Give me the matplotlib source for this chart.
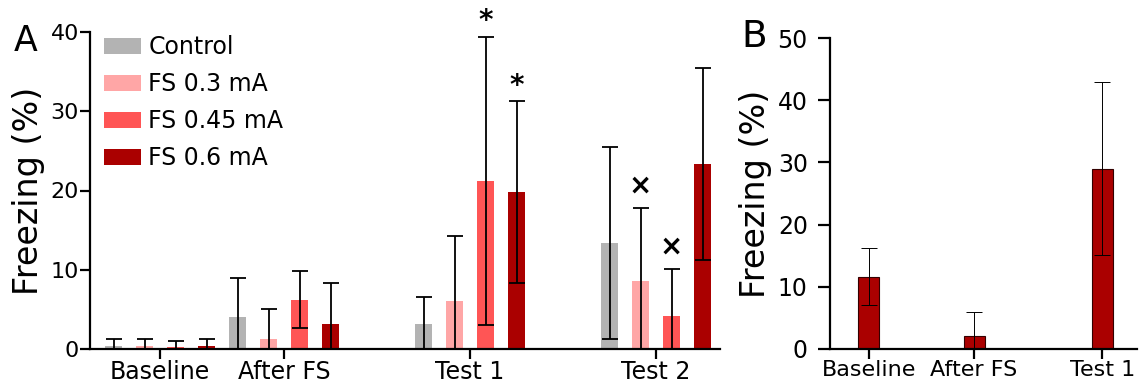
import numpy as np
import matplotlib.pyplot as plt

# ---- data ----
groups_a = ["Baseline", "After FS", "Test 1", "Test 2"]
series_a = ["Control", "FS 0.3 mA", "FS 0.45 mA", "FS 0.6 mA"]
colors_a = ["#b3b3b3", "#ffa6a6", "#ff5555", "#aa0000"]
control = [0.4, 4.1, 3.1, 13.4]
fs03 = [0.4, 1.3, 6.0, 8.6]
fs045 = [0.3, 6.2, 21.2, 4.2]
fs06 = [0.4, 3.2, 19.8, 23.3]
control_err = [0.8, 4.9, 3.5, 12.1]
fs03_err = [0.9, 3.7, 8.3, 9.2]
fs045_err = [0.7, 3.6, 18.2, 5.9]
fs06_err = [0.8, 5.1, 11.5, 12.1]
# significance marks: (group index, series index, symbol)
marks_a = [(2, 2, "*"), (2, 3, "*"), (3, 1, "×"), (3, 2, "×")]

groups_b = ["Baseline", "After FS", "Test 1"]
values_b = [11.6, 2.1, 29.0]
err_b = [4.6, 3.9, 13.9]

plt.rcParams['font.family'] = ['DejaVu Sans']

W, H = 1139, 388
fig = plt.figure(figsize=(W / 100, H / 100), dpi=100)
axA = fig.add_axes([90 / W, 1 - 349 / H, 630 / W, 317 / H])
axB = fig.add_axes([830 / W, 1 - 349 / H, 307 / W, 311 / H])

# ---- panel A ----
centers = np.array([0, 4, 10, 16])
offsets = [-1.5, -0.5, 0.5, 1.5]
means = [control, fs03, fs045, fs06]
errs = [control_err, fs03_err, fs045_err, fs06_err]
for i in range(4):
    x = centers + offsets[i]
    axA.bar(x, means[i], width=0.56, color=colors_a[i], label=series_a[i], zorder=2)
    axA.errorbar(x, means[i], yerr=errs[i], fmt='none', ecolor='black',
                 elinewidth=1.3, capsize=6, capthick=1.3, zorder=3)

for g, s, sym in marks_a:
    x = centers[g] + offsets[s]
    top = means[s][g] + errs[s][g]
    dy = 1 if sym == "*" else 6
    axA.annotate(sym, (x, top), xytext=(0, dy), textcoords='offset points',
                 ha='center', va='bottom', fontsize=20, fontweight='bold',
                 annotation_clip=False)

axA.set_xlim(-2.26, 18.06)
axA.set_ylim(0, 40)
axA.set_yticks([0, 10, 20, 30, 40])
axA.set_xticks(centers)
axA.set_xticklabels(groups_a, fontsize=17)
axA.set_ylabel("Freezing (%)", fontsize=24, labelpad=4)
axA.tick_params(axis='y', labelsize=16, length=7, pad=1)
axA.tick_params(axis='x', length=7, pad=1)
axA.legend(loc='upper left', bbox_to_anchor=(0.008, 1.02), borderaxespad=0,
           frameon=False, fontsize=17, handlelength=1.55, handleheight=0.7,
           labelspacing=0.55, handletextpad=0.3)
fig.text(14 / W, 1 - 41 / H, "A", fontsize=25, va='center', ha='left')

# ---- panel B ----
xb = np.array([0, 1, 2.22])
axB.bar(xb, values_b, width=0.2, color="#aa0000", edgecolor="#330000", linewidth=0.8, zorder=2)
axB.errorbar(xb, values_b, yerr=err_b, fmt='none', ecolor='black',
             elinewidth=0.7, capsize=5.5, capthick=0.7, zorder=3)
axB.set_xlim(-0.37, 2.55)
axB.set_ylim(0, 50)
axB.set_yticks([0, 10, 20, 30, 40, 50])
axB.set_xticks(xb)
axB.set_xticklabels(groups_b, fontsize=16)
axB.set_ylabel("Freezing (%)", fontsize=24, labelpad=4)
axB.tick_params(axis='y', labelsize=17, length=9, pad=7)
axB.tick_params(axis='x', length=7, pad=1)
fig.text(741 / W, 1 - 37 / H, "B", fontsize=27, va='center', ha='left')

for ax in (axA, axB):
    ax.spines['top'].set_visible(False)
    ax.spines['right'].set_visible(False)
    ax.spines['left'].set_linewidth(1.6)
    ax.spines['bottom'].set_linewidth(1.6)
    ax.tick_params(axis='both', width=1.6)

fig.savefig("out.png", dpi=100)
